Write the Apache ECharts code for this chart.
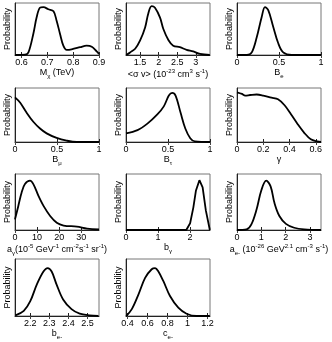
<!DOCTYPE html>
<html>
<head>
<meta charset="utf-8">
<script src="https://cdn.jsdelivr.net/npm/echarts@6/dist/echarts.min.js"></script>
<style>
  html, body { margin: 0; padding: 0; background: #fff; }
  #main { width: 332px; height: 342px; }
</style>
</head>
<body>
<div id="main"></div>
<script>
// posterior curves, x values and relative probability
var mChiX = [0.5755, 0.614, 0.627, 0.646, 0.659, 0.672, 0.685, 0.704, 0.724, 0.736, 0.749, 0.762, 0.775, 0.794, 0.827, 0.852, 0.872, 0.891, 0.9];
var mChiY = [0, 0.006, 0.05, 0.41, 0.73, 0.91, 0.92, 0.88, 0.84, 0.66, 0.41, 0.18, 0.10, 0.11, 0.15, 0.18, 0.16, 0.07, 0.02];
var sigvX = [1.125, 1.23, 1.366, 1.5, 1.634, 1.72, 1.81, 1.90, 2.036, 2.125, 2.26, 2.39, 2.57, 2.75, 2.93, 3.11, 3.375];
var sigvY = [0, 0.05, 0.12, 0.28, 0.53, 0.8, 0.94, 0.91, 0.72, 0.50, 0.29, 0.18, 0.15, 0.10, 0.07, 0.02, 0];
var beX = [0, 0.118, 0.176, 0.235, 0.294, 0.333, 0.373, 0.43, 0.49, 0.55, 0.65, 1];
var beY = [0, 0, 0.05, 0.34, 0.73, 0.92, 0.86, 0.55, 0.23, 0.05, 0, 0];
var bmuX = [0, 0.06, 0.139, 0.218, 0.298, 0.377, 0.496, 0.615, 0.734, 1];
var bmuY = [0.825, 0.73, 0.54, 0.375, 0.25, 0.16, 0.075, 0.025, 0, 0];
var btauX = [0, 0.137, 0.255, 0.373, 0.45, 0.51, 0.55, 0.59, 0.65, 0.706, 0.765, 0.82, 1];
var btauY = [0.16, 0.22, 0.34, 0.51, 0.66, 0.86, 0.91, 0.86, 0.54, 0.25, 0.07, 0.01, 0];
var gammaX = [0, 0.0375, 0.0625, 0.1, 0.15, 0.2, 0.2625, 0.3125, 0.3625, 0.4125, 0.4625, 0.5125, 0.5625, 0.6125, 0.64];
var gammaY = [0.92, 0.89, 0.86, 0.87, 0.88, 0.86, 0.82, 0.79, 0.68, 0.51, 0.33, 0.17, 0.05, 0.01, 0];
var agX = [0, 1.5, 3.0, 4.5, 6.8, 8.3, 10.6, 12.9, 15.9, 18.9, 22, 28, 32.6, 38];
var agY = [0.19, 0.43, 0.67, 0.82, 0.88, 0.82, 0.61, 0.43, 0.25, 0.13, 0.08, 0.06, 0.025, 0.01];
var bgX = [0, 1.88, 2.0, 2.1, 2.18, 2.29, 2.39, 2.49, 2.615];
var bgY = [0, 0, 0.12, 0.40, 0.7, 0.89, 0.76, 0.35, 0];
var aeX = [0, 0.39, 0.59, 0.8, 1.0, 1.2, 1.38, 1.54, 1.74, 2.01, 2.35, 2.76, 3.45];
var aeY = [0, 0.01, 0.1, 0.36, 0.71, 0.88, 0.78, 0.48, 0.25, 0.11, 0.04, 0.01, 0];
var beMX = [2.122, 2.166, 2.2, 2.234, 2.269, 2.291, 2.312, 2.338, 2.372, 2.416, 2.459, 2.51, 2.557];
var beMY = [0.01, 0.09, 0.26, 0.55, 0.78, 0.84, 0.78, 0.55, 0.29, 0.12, 0.04, 0.01, 0];
var ceX = [0.387, 0.443, 0.51, 0.576, 0.642, 0.676, 0.709, 0.759, 0.825, 0.908, 0.991, 1.09, 1.223];
var ceY = [0, 0.12, 0.38, 0.67, 0.82, 0.84, 0.78, 0.61, 0.35, 0.145, 0.04, 0, 0];

// axis ranges and tick labels
var xMins = [0.575, 1.12, 0, 0, 0, 0, 0, 0, 0, 2.12, 0.385];
var xMaxs = [0.9, 3.38, 1, 1, 1, 0.64, 38, 2.62, 3.45, 2.56, 1.225];
var xTicks = [
  [0.6, 0.7, 0.8, 0.9],
  [1.5, 2, 2.5, 3],
  [0, 0.5, 1],
  [0, 0.5, 1],
  [0, 0.5, 1],
  [0, 0.2, 0.4, 0.6],
  [0, 10, 20, 30],
  [0, 1, 2],
  [0, 1, 2, 3],
  [2.2, 2.3, 2.4, 2.5],
  [0.4, 0.6, 0.8, 1, 1.2]
];
var xNames = [
  '{b|M}{sub|χ}{b| (TeV)}',
  '{b|<σ v> (10}{sup|-23}{b| cm}{sup|3}{b| s}{sup|-1}{b|)}',
  '{b|B}{sub|e}',
  '{b|B}{sub|μ}',
  '{b|B}{sub|τ}',
  '{b|γ}',
  '{b|a}{sub|γ}{b|(10}{sup|-5}{b| GeV}{sup|-1}{b| cm}{sup|-2}{b|s}{sup|-1}{b| sr}{sup|-1}{b|)}',
  '{b|b}{sub|γ}',
  '{b|a}{sub|e-}{b| (10}{sup|-26}{b| GeV}{sup|2.1}{b| cm}{sup|-3}{b| s}{sup|-1}{b|)}',
  '{b|b}{sub|e-}',
  '{b|c}{sub|e-}'
];
var curves = [
  [mChiX, mChiY], [sigvX, sigvY], [beX, beY],
  [bmuX, bmuY], [btauX, btauY], [gammaX, gammaY],
  [agX, agY], [bgX, bgY], [aeX, aeY],
  [beMX, beMY], [ceX, ceY]
];

var colLeft = [15, 126, 237];
var rowTop = [3, 88, 174, 259];
var rowH = [52, 54, 56, 57];
var font = 'Liberation Sans';

var rich = {
  b: { fontSize: 9, lineHeight: 13, fontFamily: font, color: '#000' },
  sub: { fontSize: 6, lineHeight: 7, verticalAlign: 'bottom', fontFamily: font, color: '#000' },
  sup: { fontSize: 6, lineHeight: 7, verticalAlign: 'top', fontFamily: font, color: '#000' }
};

var grids = [], xAxes = [], yAxes = [], series = [];
for (var i = 0; i < curves.length; i++) {
  var r = Math.floor(i / 3), c = i % 3;
  grids.push({ left: colLeft[c], top: rowTop[r], width: 84, height: rowH[r],
    show: true, borderColor: '#777', borderWidth: 1 });
  xAxes.push({
    gridIndex: i, type: 'value', min: xMins[i], max: xMaxs[i], position: 'bottom',
    axisLine: { onZero: false, lineStyle: { color: '#222', width: 1 } },
    axisTick: { inside: true, length: 3, customValues: xTicks[i], lineStyle: { color: '#222' } },
    axisLabel: { customValues: xTicks[i], fontSize: 9, fontFamily: font, color: '#000', margin: 3 },
    splitLine: { show: false },
    name: xNames[i], nameLocation: 'middle', nameGap: 11,
    nameTextStyle: { rich: rich }
  });
  // ticks on the top edge
  xAxes.push({
    gridIndex: i, type: 'value', min: xMins[i], max: xMaxs[i], position: 'top',
    axisLine: { show: false },
    axisTick: { inside: true, length: 3, customValues: xTicks[i], lineStyle: { color: '#444' } },
    axisLabel: { show: false },
    splitLine: { show: false }
  });
  yAxes.push({
    gridIndex: i, type: 'value', min: 0, max: 1,
    axisLine: { show: true, onZero: false, lineStyle: { color: '#222', width: 1 } },
    axisTick: { show: false }, axisLabel: { show: false }, splitLine: { show: false },
    name: 'Probability', nameLocation: 'middle', nameGap: 3, nameRotate: 90,
    nameTextStyle: { fontSize: 9, fontFamily: font, color: '#000' }
  });
  var pts = curves[i][0].map(function (x, k) { return [x, curves[i][1][k]]; });
  series.push({
    type: 'line', xAxisIndex: 2 * i, yAxisIndex: i, data: pts,
    smooth: i === 7 ? false : 0.35, showSymbol: false, silent: true,
    lineStyle: { color: '#000', width: 1.8 }
  });
}

var chart = echarts.init(document.getElementById('main'), null, { renderer: 'canvas' });
chart.setOption({
  animation: false,
  backgroundColor: '#fff',
  grid: grids,
  xAxis: xAxes,
  yAxis: yAxes,
  series: series
});
</script>
</body>
</html>
